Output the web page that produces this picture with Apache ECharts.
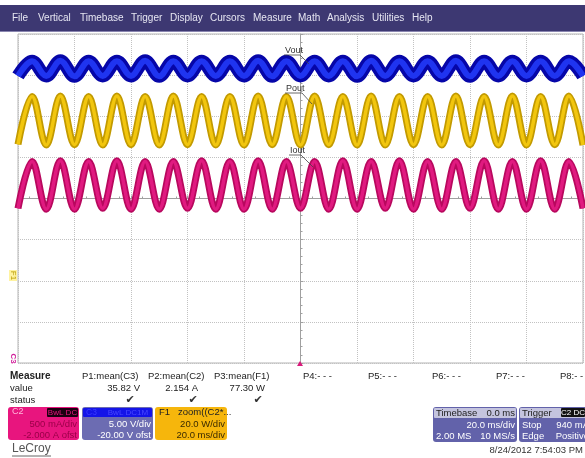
<!DOCTYPE html>
<html><head><meta charset="utf-8">
<script src="https://cdn.jsdelivr.net/npm/echarts@6/dist/echarts.min.js"></script>
<style>html,body{margin:0;padding:0;background:#fff}#c{width:585px;height:458px}</style>
</head><body><div id="c"></div>
<script>
// ---- Data ----
const timeStartMs = -100;      // left edge of screen, trigger at 0
const halfPeriodMs = 5;        // ripple period 10 ms (100 Hz)
// Vout (C3), volts: trough at -100,-90,...,100 ; peak at -95,-85,...,95
const voutTroughs = [34.9,34.9,34.85,34.9,34.9,34.85,34.9,34.9,34.9,34.85,34.9,34.9,34.85,34.9,34.9,34.9,34.85,34.9,34.9,34.9,34.9];
const voutPeaks   = [36.7,36.75,36.7,36.7,36.75,36.7,36.7,36.7,36.75,36.7,36.7,36.7,36.75,36.7,36.7,36.75,36.7,36.7,36.7,36.7];
// Pout (F1), watts
const poutTroughs = [66.3,66.0,66.2,66.0,66.2,66.0,66.2,66.0,66.0,66.2,66.0,66.2,66.0,66.0,66.2,66.0,66.2,66.0,66.0,66.2,66.0];
const poutPeaks   = [89.6,89.8,89.6,89.8,89.6,89.8,89.6,89.6,89.8,89.6,89.8,89.6,89.8,89.6,89.6,89.8,89.6,89.8,89.6,89.8];
// Iout (C2), amps
const ioutTroughs = [1.88,1.87,1.87,1.88,1.87,1.87,1.88,1.87,1.87,1.87,1.88,1.87,1.87,1.88,1.87,1.87,1.88,1.87,1.87,1.87,1.88];
const ioutPeaks   = [2.45,2.46,2.45,2.46,2.45,2.45,2.46,2.45,2.46,2.45,2.45,2.46,2.45,2.46,2.45,2.45,2.46,2.45,2.46,2.45];
// channel settings (value per division, offset)
const voutScale = 5.0,  voutOffset = -20.0;
const poutScale = 20.0, poutOffset = -40.0;
const ioutScale = 0.5,  ioutOffset = -2.0;
// measurement table
const measureHeads = ['P1:mean(C3)','P2:mean(C2)','P3:mean(F1)'];
const measureValues = ['35.82 V','2.154 A','77.30 W'];
const emptyHeads = ['P4:- - -','P5:- - -','P6:- - -','P7:- - -','P8:- - -'];
const menuItems = ['File','Vertical','Timebase','Trigger','Display','Cursors','Measure','Math','Analysis','Utilities','Help'];

function trace(troughs, peaks, scale, offset){
  const pts = [];
  for (let i = 0; i < troughs.length; i++){
    pts.push([timeStartMs + 2*i*halfPeriodMs, (troughs[i] + offset)/scale]);
    if (i < peaks.length) pts.push([timeStartMs + (2*i+1)*halfPeriodMs, (peaks[i] + offset)/scale]);
  }
  return pts;
}
const vout = trace(voutTroughs, voutPeaks, voutScale, voutOffset);
const pout = trace(poutTroughs, poutPeaks, poutScale, poutOffset);
const iout = trace(ioutTroughs, ioutPeaks, ioutScale, ioutOffset);

function ln(data, color, width, z){
  return {type:'line', data, smooth:0.36, symbol:'none', silent:true, z,
    lineStyle:{color, width, cap:'butt', join:'round'}, animation:false};
}

const F = 'Liberation Sans, Arial, sans-serif';
const G = [];
function rect(x,y,w,h,fill,r){G.push({type:'rect',shape:{x,y,width:w,height:h,r:r||0},style:{fill},silent:true});}
function txt(x,y,t,o){o=o||{};G.push({type:'text',x,y,silent:true,z:10,style:{text:t,fill:o.fill||'#222',font:(o.weight||'normal')+' '+(o.size||10)+'px '+F,align:o.align||'left',verticalAlign:'middle'}});}
function seg(pts,color,w){G.push({type:'polyline',shape:{points:pts},style:{stroke:color,lineWidth:w||0.8,fill:null},silent:true,z:10});}

// menu bar
rect(0,5,585,26,'#3d3872');
rect(0,31,585,1,'#8a86b0');
const menuX = [12,38,80,131,170,210,253,298,327,372,412];
menuItems.forEach((m,i)=>txt(menuX[i],18,m,{fill:'#e6e6f2',size:10}));

// trace labels
txt(285,51,'Vout',{size:9,fill:'#333'}); seg([[284,55],[300,55],[309,64]],'#444');
txt(286,89,'Pout',{size:9,fill:'#333'}); seg([[285,93],[302,93],[312,104]],'#444');
txt(290,151,'Iout',{size:9,fill:'#333'}); seg([[289,155],[301,155],[313,167]],'#444');

// left markers
rect(9,270,8,11,'#fff3a0');
G.push({type:'text',x:13,y:275.5,rotation:-Math.PI/2,silent:true,style:{text:'F1',fill:'#b89a00',font:'8px '+F,align:'center',verticalAlign:'middle'}});
G.push({type:'text',x:13,y:358.5,rotation:-Math.PI/2,silent:true,style:{text:'C3',fill:'#d0209a',font:'bold 8px '+F,align:'center',verticalAlign:'middle'}});
// trigger marker
G.push({type:'polygon',shape:{points:[[297,366],[303,366],[300,361]]},style:{fill:'#d81b7b'},silent:true,z:10});

// measure table
txt(10,376,'Measure',{weight:'bold',size:10});
txt(10,388,'value',{size:9.5}); txt(10,400,'status',{size:9.5});
const headX=[82,148,214], valX=[140,198,265], chkX=[130,193,258];
measureHeads.forEach((h,i)=>{txt(headX[i],376,h,{size:9.5}); txt(valX[i],388,measureValues[i],{size:9.5,align:'right'});
  G.push({type:'text',x:chkX[i],y:400,silent:true,style:{text:'\u2714',fill:'#333',font:'11px DejaVu Sans',align:'center',verticalAlign:'middle'}});});
const emptyX=[303,368,432,496,560];
emptyHeads.forEach((h,i)=>txt(emptyX[i],376,h,{size:9.5}));

// channel boxes
rect(8,407,71,33,'#e8157e',3);
txt(12,412,'C2',{size:9,fill:'#ffb8dc'});
rect(47,408,31,9,'#1a0010',1); txt(62.5,412.5,'BwL DC',{size:8,fill:'#e8157e',align:'center'});
txt(77,424,'500 mA/div',{size:9.5,align:'right',fill:'#9a0048'});
txt(77,435,'-2.000 A ofst',{size:9.5,align:'right',fill:'#9a0048'});

rect(82,407,71,33,'#6c6cb2',3);
rect(83,408,69,9,'#1414e8',1);
txt(86,412.5,'C3',{size:8.5,fill:'#3a3aff'});
txt(128,412.5,'BwL DC1M',{size:8,fill:'#4848ff',align:'center'});
txt(151,424,'5.00 V/div',{size:9.5,align:'right',fill:'#fff'});
txt(151,435,'-20.00 V ofst',{size:9.5,align:'right',fill:'#fff'});

rect(155,407,72,33,'#f6b60c',3);
txt(159,412,'F1   zoom((C2*...',{size:9.5,fill:'#222'});
txt(225,424,'20.0 W/div',{size:9.5,align:'right',fill:'#3a2a00'});
txt(225,435,'20.0 ms/div',{size:9.5,align:'right',fill:'#3a2a00'});

// LeCroy
txt(12,449,'LeCroy',{size:12,fill:'#555'}); seg([[12,456],[51,456]],'#666',1);

// timebase / trigger
rect(433,407,84,35,'#6262aa',3); rect(434,408,82,10,'#c4c4de',1);
txt(436,413,'Timebase',{size:9.5,fill:'#222'}); txt(515,413,'0.0 ms',{size:9.5,fill:'#222',align:'right'});
txt(515,425,'20.0 ms/div',{size:9.5,fill:'#fff',align:'right'});
txt(436,436,'2.00 MS',{size:9.5,fill:'#fff'}); txt(515,436,'10 MS/s',{size:9.5,fill:'#fff',align:'right'});
rect(519,407,70,35,'#6262aa',3); rect(520,408,68,10,'#c4c4de',1);
txt(522,413,'Trigger',{size:9.5,fill:'#222'});
rect(561,408,24,9,'#111',1); txt(573,412.5,'C2 DC',{size:8,fill:'#fff',align:'center'});
txt(522,425,'Stop',{size:9.5,fill:'#fff'}); txt(589,425,'940 mA',{size:9.5,fill:'#fff',align:'right'});
txt(522,436,'Edge',{size:9.5,fill:'#fff'}); txt(589,436,'Positive',{size:9.5,fill:'#fff',align:'right'});
txt(583,450,'8/24/2012 7:54:03 PM',{size:9.5,fill:'#333',align:'right'});

const axisCommon = {
  axisLine:{onZero:true, lineStyle:{color:'#a0a0a0',width:1}},
  axisTick:{show:true, inside:true, length:3, lineStyle:{color:'#a0a0a0'}},
  minorTick:{show:true, splitNumber:5, length:2, lineStyle:{color:'#a0a0a0'}},
  axisLabel:{show:false},
  splitLine:{show:true, lineStyle:{type:'dotted', color:'#c2c2c2', width:1}}
};
const chart = echarts.init(document.getElementById('c'), null, {renderer:'canvas'});
chart.setOption({
  animation:false,
  backgroundColor:'#fff',
  grid:{left:18, top:34, width:565, height:329, show:true, borderColor:'#b4b4b4', borderWidth:1, backgroundColor:'#fff'},
  xAxis:Object.assign({type:'value', min:-100, max:100, interval:20}, axisCommon),
  yAxis:Object.assign({type:'value', min:-4, max:4, interval:1}, axisCommon),
  series:[
    ln(vout,'#0606a8',13,2), ln(vout,'#1f34f0',6,3),
    ln(pout,'#c29a00',7,4), ln(pout,'#f2c60e',3.5,5),
    ln(iout,'#b8085e',7,6), ln(iout,'#e01a80',3.5,7)
  ],
  graphic:G
});
</script></body></html>
